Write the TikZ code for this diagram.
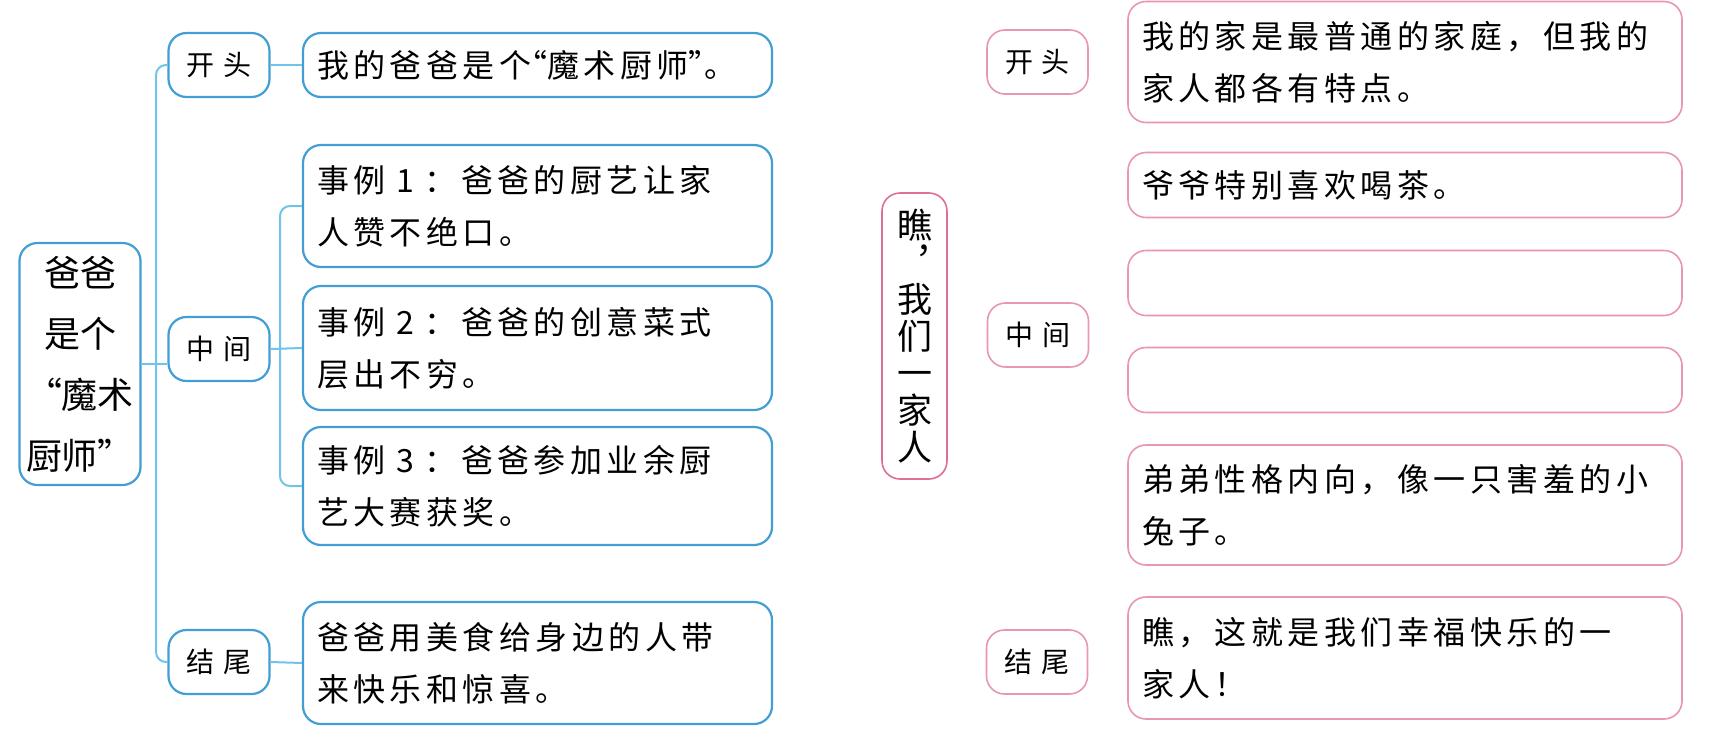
\documentclass[tikz,border=0pt]{standalone}
\usepackage{fontspec}
\setmainfont{Noto Sans CJK SC}
\newfontfamily\kaifont[LetterSpace=14]{Noto Sans CJK SC}
\newfontfamily\labfont[LetterSpace=32]{Noto Sans CJK SC}
\newfontfamily\heifont{Noto Sans CJK SC}
\definecolor{mmblue}{RGB}{66,158,212}
\definecolor{mmline}{RGB}{112,196,234}
\definecolor{mmpink}{RGB}{232,150,178}
\definecolor{mmrose}{RGB}{222,112,150}
\newcommand{\lqm}{\makebox[16pt][r]{“}}
\newcommand{\rqm}{\makebox[16pt][l]{”}}
\usetikzlibrary{positioning,calc}

\begin{document}
\begin{tikzpicture}[x=1pt,y=-1pt,
  bx/.style={draw=mmblue,line width=2.2pt,rounded corners=18pt,fill=white,inner sep=0pt},
  pbx/.style={draw=mmpink,line width=1.6pt,rounded corners=18pt,fill=white,inner sep=0pt},
  lab/.style={minimum width=101pt,minimum height=64pt,font=\labfont\fontsize{28}{30}\selectfont},
  txt/.style={inner xsep=14pt,text width=441pt,align=left,font=\kaifont\fontsize{32}{52}\selectfont},
  ptxt/.style={inner xsep=14pt,text width=526pt,align=left,font=\kaifont\fontsize{32}{52}\selectfont},
  conn/.style={draw=mmline,line width=2pt,rounded corners=10pt}]
  \fill[white] (0,0) rectangle (1709,737);
  \useasboundingbox (0,0) rectangle (1709,737);
  % left map
  \node[bx,minimum width=121pt,minimum height=242pt,align=center,font=\heifont\fontsize{36}{61}\selectfont] (root) at (80,364) {爸爸\\是个\\“魔术\\厨师”};
  \node[bx,lab] (open) at (219,65) {开头};
  \node[bx,lab] (mid) at (219,349) {中间};
  \node[bx,lab] (end) at (219,662) {结尾};
  \node[bx,txt,minimum height=64pt] (opentxt) at (537.5,65) {我的爸爸是个\lqm 魔术厨师\rqm 。};
  \node[bx,txt,minimum height=122pt] (eg1) at (537.5,206) {事例 1 ：爸爸的厨艺让家\\人赞不绝口。};
  \node[bx,txt,minimum height=124pt] (eg2) at (537.5,348) {事例 2 ：爸爸的创意菜式\\层出不穷。};
  \node[bx,txt,minimum height=118pt] (eg3) at (537.5,486) {事例 3 ：爸爸参加业余厨\\艺大赛获奖。};
  \node[bx,txt,minimum height=122pt] (endtxt) at (537.5,663) {爸爸用美食给身边的人带\\来快乐和惊喜。};
  \coordinate (trunk) at (156,0);
  \coordinate (branch) at (280,0);
  \draw[conn] (open.west) -- (open.west -| trunk) -- (end.west -| trunk) -- (end.west);
  \draw[conn] (root.east) -- (root.east -| mid.west);
  \draw[conn] (open.east) -- (opentxt.west);
  \draw[conn] (mid.east) -- (eg2.west);
  \draw[conn] (eg1.west) -- (eg1.west -| branch) -- (eg3.west -| branch) -- (eg3.west);
  \draw[conn] (end.east) -- (endtxt.west);
  % right map
  \node[pbx,draw=mmrose,minimum width=65pt,minimum height=286pt,align=center,font=\heifont\fontsize{35}{37}\selectfont] (froot) at (914.5,336) {瞧\\︐\\我\\们\\一\\家\\人};
  \node[pbx,lab] (fopen) at (1037.5,62) {开头};
  \node[pbx,lab] (fmid) at (1038,335) {中间};
  \node[pbx,lab] (fend) at (1037,662) {结尾};
  \node[pbx,ptxt,minimum height=121pt] (home) at (1405,62) {我的家是最普通的家庭，但我的\\家人都各有特点。};
  \node[pbx,ptxt,minimum height=65pt] (grandpa) at (1405,185) {爷爷特别喜欢喝茶。};
  \node[pbx,ptxt,minimum height=65pt] (blanka) at (1405,283) {};
  \node[pbx,ptxt,minimum height=65pt] (blankb) at (1405,380) {};
  \node[pbx,ptxt,minimum height=120pt] (brother) at (1405,505) {弟弟性格内向，像一只害羞的小\\兔子。};
  \node[pbx,ptxt,minimum height=122pt] (fendtxt) at (1405,658) {瞧，这就是我们幸福快乐的一\\家人！};
\end{tikzpicture}
\end{document}
